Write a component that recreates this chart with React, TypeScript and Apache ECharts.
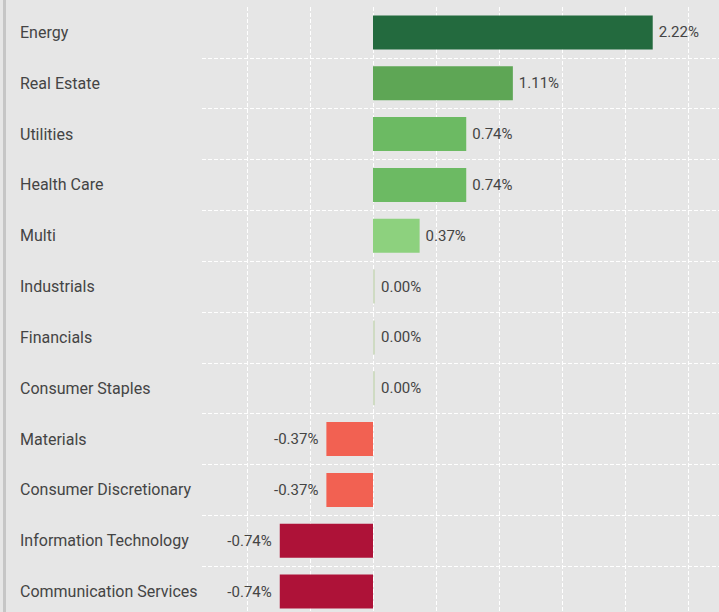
import React, { useEffect, useRef } from "react";
import * as echarts from "echarts";

const categories = [
  "Energy",
  "Real Estate",
  "Utilities",
  "Health Care",
  "Multi",
  "Industrials",
  "Financials",
  "Consumer Staples",
  "Materials",
  "Consumer Discretionary",
  "Information Technology",
  "Communication Services",
];

const values = [2.22, 1.11, 0.74, 0.74, 0.37, 0.0, 0.0, 0.0, -0.37, -0.37, -0.74, -0.74];

function colorFor(v: number): string {
  if (v >= 2) return "#236a3e";
  if (v >= 1) return "#5ea655";
  if (v >= 0.5) return "#6cba63";
  if (v > 0) return "#8dd17e";
  if (v === 0) return "#cfdbc3";
  if (v > -0.5) return "#f26152";
  return "#ae1238";
}

export default function App() {
  const ref = useRef<HTMLDivElement>(null);
  useEffect(() => {
    if (!ref.current) return;
    const chart = echarts.init(ref.current, undefined, { renderer: "svg" });
    const font = "Roboto";
    chart.setOption({
      animation: false,
      backgroundColor: "transparent",
      grid: { left: 202, right: 0, top: 7, bottom: 3 },
      xAxis: {
        type: "value",
        min: (202 - 373) / 126,
        max: (719 - 373) / 126,
        minInterval: 0.5,
        maxInterval: 0.5,
        splitNumber: 8,
        axisLine: { show: false },
        axisTick: { show: false },
        axisLabel: { show: false },
        splitLine: {
          show: true,
          showMinLine: false,
          showMaxLine: false,
          lineStyle: { color: "#ffffff", type: [4, 2], width: 1 },
        },
      },
      yAxis: {
        type: "category",
        data: categories,
        inverse: true,
        axisLine: { show: false },
        axisTick: { show: false },
        axisLabel: {
          align: "left",
          margin: 182,
          color: "#444444",
          fontFamily: font,
          fontSize: 16,
        },
        splitLine: {
          show: true,
          showMinLine: false,
          showMaxLine: false,
          lineStyle: { color: "#ffffff", type: [4, 2], width: 1 },
        },
      },
      series: [
        {
          type: "bar",
          data: values.map((v) => ({
            value: v,
            itemStyle: { color: colorFor(v) },
            label: { position: v < 0 ? "left" : "right", distance: v < 0 ? 8 : 6 },
          })),
          barWidth: 34,
          barMinHeight: 2,
          label: {
            show: true,
            color: "#444444",
            fontFamily: font,
            fontSize: 15,
            formatter: (p: any) => `${Number(p.value).toFixed(2)}%`,
          },
        },
      ],
    });
    return () => chart.dispose();
  }, []);
  return (
    <div
      style={{
        position: "absolute",
        left: 0,
        top: 0,
        width: 719,
        height: 612,
        overflow: "hidden",
        background: "#e6e6e6",
      }}
    >
      <div
        style={{
          position: "absolute",
          left: 3,
          top: 0,
          width: 3,
          height: 612,
          background: "#c6c6c6",
        }}
      />
      <div ref={ref} style={{ position: "absolute", left: 0, top: 0, width: 719, height: 620 }} />
    </div>
  );
}
